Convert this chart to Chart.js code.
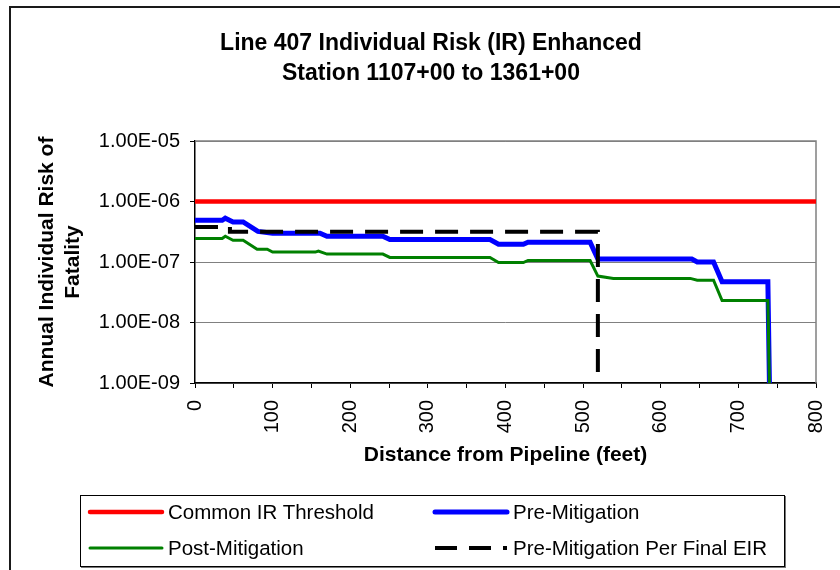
<!DOCTYPE html>
<html><head><meta charset="utf-8">
<script src="https://cdn.jsdelivr.net/npm/chart.js@4.4.0/dist/chart.umd.min.js"></script>
<style>
html,body{margin:0;padding:0;background:#fff;overflow:hidden;}
#wrap{position:relative;width:840px;height:570px;overflow:hidden;}
#frame{position:absolute;left:9px;top:6px;width:900px;height:700px;border-left:2px solid #1a1a1a;border-top:2px solid #1a1a1a;}
#c{position:absolute;left:0;top:0;}
#title{position:absolute;left:0;top:27px;width:862px;text-align:center;font:bold 23px "Liberation Sans",Arial,sans-serif;line-height:30px;color:#000;}
#legend{position:absolute;left:80px;top:495px;width:703px;height:70px;border:1px solid #000;box-shadow:1px 1px 0 #777;background:#fff;}
.item{position:absolute;height:24px;display:flex;align-items:center;font:20.5px "Liberation Sans",Arial,sans-serif;color:#000;white-space:nowrap;}
.item svg{margin-right:3px;display:block;}
</style></head>
<body>
<div id="wrap">
<div id="frame"></div>
<canvas id="c" width="840" height="570"></canvas>
<div id="title">Line 407 Individual Risk (IR) Enhanced<br>Station 1107+00 to 1361+00</div>
<div id="legend"></div>
</div>
<script>
// ---- data ----
const seriesNames = ['Common IR Threshold', 'Pre-Mitigation', 'Post-Mitigation', 'Pre-Mitigation Per Final EIR'];

const thresholdDist = [0, 800];
const thresholdRisk = [1e-6, 1e-6];

const preDist = [0, 35, 39, 49, 62, 81, 100, 161, 170, 242, 251, 380, 391, 423, 429, 509, 519, 640, 647, 668, 679, 738, 740];
const preRisk = [4.9e-7, 4.9e-7, 5.3e-7, 4.6e-7, 4.6e-7, 3.2e-7, 3.0e-7, 3.0e-7, 2.67e-7, 2.67e-7, 2.35e-7, 2.35e-7, 1.97e-7, 1.97e-7, 2.13e-7, 2.13e-7, 1.12e-7, 1.12e-7, 1.0e-7, 1.0e-7, 4.7e-8, 4.7e-8, 1e-9];

const postDist = [0, 35, 39, 49, 62, 80, 93, 100, 155, 159, 170, 242, 251, 380, 391, 423, 429, 509, 519, 539, 638, 647, 668, 679, 738, 740];
const postRisk = [2.45e-7, 2.45e-7, 2.67e-7, 2.29e-7, 2.29e-7, 1.63e-7, 1.63e-7, 1.46e-7, 1.46e-7, 1.52e-7, 1.35e-7, 1.35e-7, 1.19e-7, 1.19e-7, 9.8e-8, 9.8e-8, 1.06e-7, 1.06e-7, 5.85e-8, 5.36e-8, 5.36e-8, 5.0e-8, 5.0e-8, 2.3e-8, 2.3e-8, 1e-9];

const eirDist = [0, 45, 45, 519, 519];
const eirRisk = [3.8e-7, 3.8e-7, 3.15e-7, 3.15e-7, 1e-9];

const xTickValues = [0, 50, 100, 150, 200, 250, 300, 350, 400, 450, 500, 550, 600, 650, 700, 750, 800];
const xTickLabels = ['0', '', '100', '', '200', '', '300', '', '400', '', '500', '', '600', '', '700', '', '800'];
const yTickValues = [1e-9, 1e-8, 1e-7, 1e-6, 1e-5];
const yTickLabels = ['1.00E-09', '1.00E-08', '1.00E-07', '1.00E-06', '1.00E-05'];

const xTitle = 'Distance from Pipeline (feet)';
const yTitle = ['Annual Individual Risk of', 'Fatality'];

// ---- chart ----
const FAM = '"Liberation Sans", Arial, sans-serif';
Chart.defaults.font.family = FAM;
const pts = (xs, ys) => xs.map((x, i) => ({x: x, y: ys[i]}));

const plotBorder = {
  id: 'plotBorder',
  beforeDatasetsDraw(chart) {
    const {ctx, chartArea: a} = chart;
    ctx.save();
    ctx.strokeStyle = '#808080';
    ctx.lineWidth = 1.5;
    ctx.beginPath();
    ctx.moveTo(a.left, a.top);
    ctx.lineTo(a.right, a.top);
    ctx.lineTo(a.right, a.bottom);
    ctx.stroke();
    ctx.restore();
  }
};

const colors = {threshold: '#FF0000', pre: '#0000FF', post: '#008000', eir: '#000000'};

new Chart(document.getElementById('c'), {
  type: 'line',
  data: {
    datasets: [
      {label: seriesNames[3], data: pts(eirDist, eirRisk), borderColor: colors.eir, borderWidth: 4, borderDash: [23, 12], pointRadius: 0, fill: false, tension: 0},
      {label: seriesNames[2], data: pts(postDist, postRisk), borderColor: colors.post, borderWidth: 3, pointRadius: 0, fill: false, tension: 0},
      {label: seriesNames[1], data: pts(preDist, preRisk), borderColor: colors.pre, borderWidth: 5, pointRadius: 0, fill: false, tension: 0},
      {label: seriesNames[0], data: pts(thresholdDist, thresholdRisk), borderColor: colors.threshold, borderWidth: 4.5, pointRadius: 0, fill: false, tension: 0}
    ]
  },
  options: {
    responsive: false,
    animation: false,
    events: [],
    layout: {padding: {top: 141, left: 14, right: 24, bottom: 80}},
    plugins: {legend: {display: false}, tooltip: {enabled: false}, title: {display: false}},
    scales: {
      x: {
        type: 'linear', min: 0, max: 800,
        afterBuildTicks: s => { s.ticks = xTickValues.map(v => ({value: v})); },
        afterFit: s => { s.height = 107; s.paddingLeft = 0; s.paddingRight = 0; },
        ticks: {autoSkip: false, minRotation: 90, maxRotation: 90, padding: 12, color: '#000', font: {size: 20},
                callback: (v, i) => xTickLabels[i]},
        grid: {drawOnChartArea: false, drawTicks: true, tickLength: 5, tickColor: '#000', color: '#000'},
        border: {color: '#000', width: 1.5},
        title: {display: true, text: xTitle, color: '#000', font: {size: 21, weight: 'bold', lineHeight: 1.2}, padding: {top: 0, bottom: 22}}
      },
      y: {
        type: 'logarithmic', min: 1e-9, max: 1e-5,
        afterBuildTicks: s => { s.ticks = yTickValues.map(v => ({value: v})); },
        afterFit: s => { s.width = 181; s.paddingTop = 0; s.paddingBottom = 0; },
        ticks: {autoSkip: false, padding: 10, color: '#000', font: {size: 20},
                callback: (v, i) => yTickLabels[i]},
        grid: {color: '#808080', lineWidth: 1, tickLength: 5, tickColor: '#000'},
        border: {color: '#000', width: 1.5},
        title: {display: true, text: yTitle, color: '#000', font: {size: 21, weight: 'bold', lineHeight: 1.25}, padding: {top: 20, bottom: 0}}
      }
    }
  },
  plugins: [plotBorder]
});

// ---- legend (HTML, real text) ----
const legendItems = [
  {name: seriesNames[0], color: colors.threshold, w: 4.5, dash: null, left: 6, top: 4},
  {name: seriesNames[1], color: colors.pre, w: 5, dash: null, left: 351, top: 4},
  {name: seriesNames[2], color: colors.post, w: 3, dash: null, left: 6, top: 40},
  {name: seriesNames[3], color: colors.eir, w: 4, dash: '22,12', left: 351, top: 40}
];
const lg = document.getElementById('legend');
legendItems.forEach(it => {
  const d = document.createElement('div');
  d.className = 'item';
  d.style.left = it.left + 'px';
  d.style.top = it.top + 'px';
  const dashAttr = it.dash ? ` stroke-dasharray="${it.dash}"` : '';
  const cap = it.dash ? 'butt' : 'round';
  d.innerHTML = `<svg width="78" height="10"><line x1="3" y1="5" x2="75" y2="5" stroke="${it.color}" stroke-width="${it.w}" stroke-linecap="${cap}"${dashAttr}/></svg><span></span>`;
  d.querySelector('span').textContent = it.name;
  lg.appendChild(d);
});
</script>
</body></html>
